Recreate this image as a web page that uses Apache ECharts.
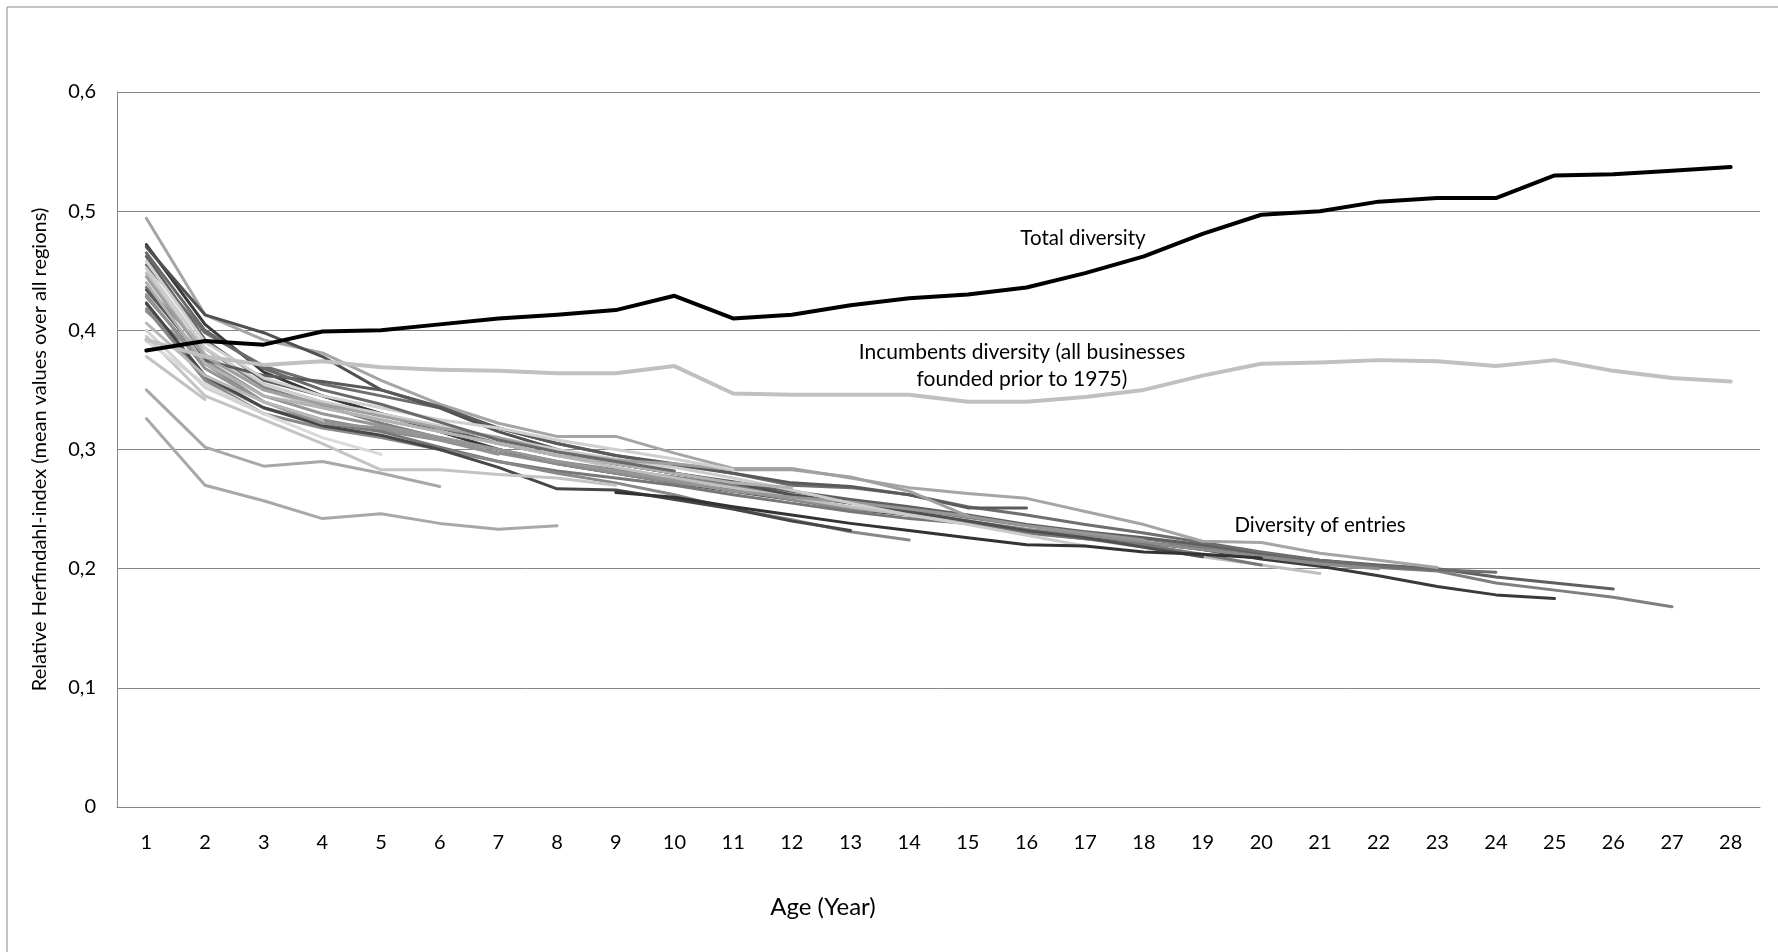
<!DOCTYPE html>
<html>
<head>
<meta charset="utf-8">
<script src="https://cdn.jsdelivr.net/npm/echarts@6/dist/echarts.min.js"></script>
<style>
html,body{margin:0;padding:0;background:#fff;}
#chart{width:1778px;height:952px;}
</style>
</head>
<body>
<div id="chart"></div>
<script>
// ---- data ----
const ageLabels = ['1','2','3','4','5','6','7','8','9','10','11','12','13','14','15','16','17','18','19','20','21','22','23','24','25','26','27','28'];

const totalDiversity = [0.383, 0.391, 0.388, 0.399, 0.400, 0.405, 0.410, 0.413, 0.417, 0.429, 0.410, 0.413, 0.421, 0.427, 0.430, 0.436, 0.448, 0.462, 0.481, 0.497, 0.500, 0.508, 0.511, 0.511, 0.530, 0.531, 0.534, 0.537];

const incumbentsDiversity = [0.392, 0.378, 0.371, 0.374, 0.369, 0.367, 0.366, 0.364, 0.364, 0.370, 0.347, 0.346, 0.346, 0.346, 0.340, 0.340, 0.344, 0.350, 0.362, 0.372, 0.373, 0.375, 0.374, 0.370, 0.375, 0.366, 0.360, 0.357];

// entry cohorts (each starts at age 1 unless noted)
const entry27 = [0.436, 0.385, 0.352, 0.337, 0.322, 0.310, 0.300, 0.290, 0.283, 0.277, 0.270, 0.262, 0.255, 0.250, 0.243, 0.236, 0.230, 0.225, 0.218, 0.212, 0.206, 0.201, 0.198, 0.188, 0.182, 0.176, 0.168];
const entry26 = [0.462, 0.392, 0.358, 0.345, 0.330, 0.318, 0.305, 0.295, 0.288, 0.280, 0.273, 0.265, 0.258, 0.252, 0.245, 0.237, 0.231, 0.226, 0.220, 0.213, 0.207, 0.203, 0.200, 0.193, 0.188, 0.183];
const entry25 = [0.472, 0.405, 0.365, 0.345, 0.330, 0.315, 0.300, 0.288, 0.280, 0.272, 0.265, 0.258, 0.250, 0.245, 0.238, 0.232, 0.226, 0.222, 0.216, 0.208, 0.202, 0.194, 0.185, 0.178, 0.175];
const entry24 = [0.455, 0.398, 0.370, 0.355, 0.345, 0.335, 0.318, 0.305, 0.295, 0.287, 0.280, 0.270, 0.268, 0.262, 0.252, 0.245, 0.237, 0.230, 0.222, 0.214, 0.207, 0.202, 0.199, 0.197];
const entry23 = [0.494, 0.413, 0.392, 0.381, 0.358, 0.338, 0.322, 0.311, 0.311, 0.297, 0.284, 0.284, 0.276, 0.268, 0.263, 0.259, 0.248, 0.237, 0.223, 0.222, 0.213, 0.207, 0.201];
const entry22 = [0.428, 0.372, 0.340, 0.325, 0.316, 0.308, 0.297, 0.288, 0.280, 0.272, 0.266, 0.258, 0.250, 0.246, 0.240, 0.233, 0.228, 0.222, 0.216, 0.210, 0.204, 0.200];
const entry21 = [0.448, 0.380, 0.350, 0.335, 0.325, 0.315, 0.305, 0.295, 0.285, 0.276, 0.268, 0.260, 0.252, 0.245, 0.238, 0.230, 0.225, 0.218, 0.210, 0.203, 0.196];
const entry20 = [0.422, 0.360, 0.335, 0.322, 0.315, 0.302, 0.290, 0.282, 0.276, 0.270, 0.262, 0.255, 0.248, 0.242, 0.238, 0.230, 0.225, 0.220, 0.212, 0.203];
const entry19 = [0.470, 0.413, 0.398, 0.378, 0.350, 0.335, 0.315, 0.300, 0.288, 0.280, 0.272, 0.262, 0.255, 0.248, 0.240, 0.232, 0.226, 0.218, 0.210];
const entry18 = [0.416, 0.375, 0.345, 0.330, 0.320, 0.310, 0.300, 0.290, 0.282, 0.274, 0.265, 0.260, 0.256, 0.250, 0.244, 0.236, 0.230, 0.224];
const entry17 = [0.452, 0.385, 0.355, 0.340, 0.330, 0.320, 0.310, 0.300, 0.292, 0.285, 0.276, 0.266, 0.255, 0.245, 0.237, 0.228, 0.219];
const entry16 = [0.434, 0.375, 0.362, 0.357, 0.350, 0.336, 0.318, 0.305, 0.295, 0.288, 0.280, 0.272, 0.269, 0.262, 0.251, 0.251];
const entry15 = [0.445, 0.378, 0.350, 0.338, 0.328, 0.318, 0.310, 0.298, 0.291, 0.288, 0.283, 0.283, 0.277, 0.265, 0.244];
const entry14 = [0.418, 0.358, 0.330, 0.318, 0.310, 0.300, 0.290, 0.280, 0.272, 0.262, 0.250, 0.241, 0.231, 0.224];
const entry13 = [0.423, 0.362, 0.335, 0.320, 0.312, 0.300, 0.285, 0.267, 0.266, 0.258, 0.250, 0.240, 0.232];
const entry12 = [0.440, 0.372, 0.345, 0.335, 0.325, 0.315, 0.305, 0.295, 0.288, 0.280, 0.272, 0.268];
const entry11 = [0.458, 0.390, 0.360, 0.345, 0.335, 0.325, 0.318, 0.308, 0.300, 0.292, 0.283];
const entry10 = [0.465, 0.400, 0.368, 0.350, 0.338, 0.323, 0.308, 0.298, 0.290, 0.282];
const entry9  = [0.395, 0.345, 0.325, 0.305, 0.283, 0.283, 0.279, 0.276, 0.270];
const entry8  = [0.326, 0.270, 0.257, 0.242, 0.246, 0.238, 0.233, 0.236];
const entry7  = [0.430, 0.368, 0.340, 0.322, 0.318, 0.308, 0.296];
const entry6  = [0.350, 0.302, 0.286, 0.290, 0.280, 0.269];
const entry5  = [0.391, 0.355, 0.330, 0.310, 0.296];
const entry4  = [0.406, 0.362, 0.340, 0.325];
const entry3  = [0.400, 0.352, 0.330];
const entry2  = [0.378, 0.342];
// cohort first observed at age 9
const entryLate = [0.264, 0.260, 0.252, 0.245, 0.238, 0.232, 0.226, 0.220, 0.219, 0.214, 0.212, 0.209];

const entryLines  = [entry27, entry26, entry25, entry24, entry23, entry22, entry21, entry20, entry19, entry18, entry17, entry16, entry15, entry14, entry13, entry12, entry11, entry10, entry9, entry8, entry7, entry6, entry5, entry4, entry3, entry2, entryLate];
const entryStartAge = [1,1,1,1,1,1,1,1,1,1,1,1,1,1,1,1,1,1,1,1,1,1,1,1,1,1,9];
const entryColors = ['#7f7f7f','#5f5f5f','#3a3a3a','#6e6e6e','#a5a5a5','#8c8c8c','#bfbfbf','#777777','#505050','#969696','#cccccc','#5a5a5a','#a0a0a0','#888888','#474747','#b2b2b2','#d0d0d0','#696969','#c4c4c4','#a8a8a8','#939393','#a8a8a8','#dadada','#b8b8b8','#d2d2d2','#c2c2c2','#333333'];

const FONT = 'Lato, "Open Sans", sans-serif';

const series = [];
entryLines.forEach(function (vals, i) {
  series.push({
    name: 'entry' + i,
    type: 'line',
    data: vals.map(function (v, j) { return [entryStartAge[i] - 1 + j, v]; }),
    showSymbol: false,
    symbol: 'none',
    lineStyle: { color: entryColors[i], width: 3, cap: 'round', join: 'round' },
    itemStyle: { color: entryColors[i] },
    z: 2
  });
});
series.push({
  name: 'Incumbents diversity',
  type: 'line',
  data: incumbentsDiversity.map(function (v, j) { return [j, v]; }),
  showSymbol: false, symbol: 'none',
  lineStyle: { color: '#c0c0c0', width: 4, cap: 'round', join: 'round' },
  itemStyle: { color: '#c0c0c0' },
  z: 3
});
series.push({
  name: 'Total diversity',
  type: 'line',
  data: totalDiversity.map(function (v, j) { return [j, v]; }),
  showSymbol: false, symbol: 'none',
  lineStyle: { color: '#000000', width: 4, cap: 'round', join: 'round' },
  itemStyle: { color: '#000000' },
  z: 4
});

const chart = echarts.init(document.getElementById('chart'));
chart.setOption({
  animation: false,
  backgroundColor: '#ffffff',
  grid: { left: 117, top: 92, width: 1643, height: 715, containLabel: false },
  xAxis: {
    type: 'category',
    data: ageLabels,
    boundaryGap: true,
    axisLine: { show: true, lineStyle: { color: '#868686', width: 1 } },
    axisTick: { show: false },
    axisLabel: { margin: 26, fontSize: 20, color: '#000', fontFamily: FONT },
    splitLine: { show: false }
  },
  yAxis: {
    type: 'value',
    min: 0, max: 0.6, interval: 0.1,
    axisLine: { show: true, lineStyle: { color: '#868686', width: 1 } },
    axisTick: { show: false },
    axisLabel: {
      margin: 21, fontSize: 20, color: '#000', fontFamily: FONT,
      formatter: function (v) { return v === 0 ? '0' : v.toFixed(1).replace('.', ','); }
    },
    splitLine: { show: true, lineStyle: { color: '#868686', width: 1 } },
    name: 'Relative Herfindahl-index (mean values over all regions)',
    nameLocation: 'middle',
    nameRotate: 90,
    nameGap: 67,
    nameTextStyle: { fontSize: 20, color: '#000', fontFamily: FONT }
  },
  graphic: [
    { type: 'rect', silent: true, shape: { x: 7, y: 7, width: 1800, height: 1000 },
      style: { fill: 'none', stroke: '#8a8a8a', lineWidth: 1 }, z: -1 },
    { type: 'text', x: 823, y: 907, silent: true,
      style: { text: 'Age (Year)', fill: '#000', font: '24px ' + FONT, align: 'center', verticalAlign: 'middle', textAlign: 'center', textVerticalAlign: 'middle' } },
    { type: 'text', x: 1083, y: 238, silent: true,
      style: { text: 'Total diversity', fill: '#000', font: '20.5px ' + FONT, align: 'center', verticalAlign: 'middle', textAlign: 'center', textVerticalAlign: 'middle' } },
    { type: 'text', x: 1022, y: 366, silent: true,
      style: { text: 'Incumbents diversity (all businesses\nfounded prior to 1975)', fill: '#000', font: '21px ' + FONT, lineHeight: 27, align: 'center', verticalAlign: 'middle', textAlign: 'center', textVerticalAlign: 'middle' } },
    { type: 'text', x: 1320, y: 525, silent: true,
      style: { text: 'Diversity of entries', fill: '#000', font: '20.5px ' + FONT, align: 'center', verticalAlign: 'middle', textAlign: 'center', textVerticalAlign: 'middle' } }
  ],
  series: series
});
</script>
</body>
</html>
